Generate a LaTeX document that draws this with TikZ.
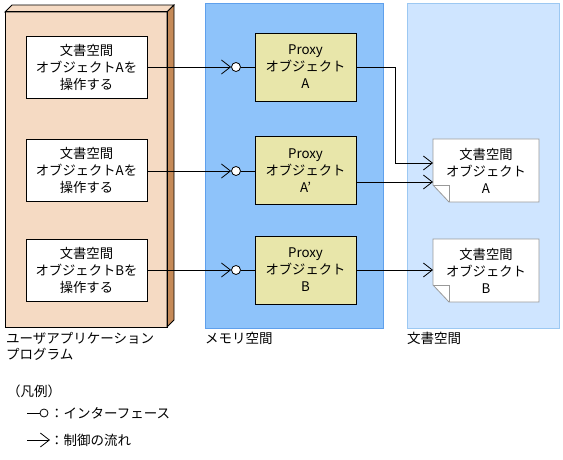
\documentclass[tikz,border=0pt]{standalone}
\usepackage{fontspec}
\setmainfont{Noto Sans CJK JP}
\usetikzlibrary{arrows.meta}
\definecolor{peach}{HTML}{F5DAC3}
\definecolor{brownside}{HTML}{C58A58}
\definecolor{memblue}{HTML}{8EC3FA}
\definecolor{memborder}{HTML}{5FA0EC}
\definecolor{docblue}{HTML}{CFE5FF}
\definecolor{docborder}{HTML}{9CC8F2}
\definecolor{proxyfill}{HTML}{E8E6AA}
\definecolor{docline}{HTML}{999999}
\tikzset{
  txt/.style={font=\fontsize{13.3}{17}\selectfont, align=center, inner sep=0pt},
  lbl/.style={font=\fontsize{13.5}{16}\selectfont, align=left, inner sep=0pt, anchor=north west},
  appbox/.style={draw=black, fill=white, line width=0.8pt, minimum width=121pt, minimum height=62pt, txt},
  proxybox/.style={draw=black, fill=proxyfill, line width=0.8pt, minimum width=101pt, minimum height=68pt, txt},
  iface/.style={circle, draw=black, fill=white, line width=0.8pt, minimum size=9pt, inner sep=0pt},
  flow/.style={-{Straight Barb[length=9pt,width=14pt,line width=0.8pt]}, line width=0.8pt},
  plain/.style={line width=0.8pt},
}
\begin{document}
\begin{tikzpicture}[x=1pt,y=-1pt]
\useasboundingbox (0,0) rectangle (563,460);
% left 3D box
\fill[peach] (5,12) rectangle (167,327);
\filldraw[fill=peach, draw=black, line width=0.8pt] (5,12) -- (12,5) -- (174,5) -- (167,12) -- cycle;
\filldraw[fill=brownside, draw=black, line width=0.8pt] (167,12) -- (174,5) -- (174,320) -- (167,327) -- cycle;
\draw[line width=1pt] (5,12) rectangle (167,327);
% memory panel
\filldraw[fill=memblue, draw=memborder, line width=0.8pt] (205,3) rectangle (383,328);
% doc panel
\filldraw[fill=docblue, draw=docborder, line width=0.8pt] (407,3) rectangle (559,328);

% app boxes
\node[appbox] (a1) at (86.5,67) {文書空間\\オブジェクトAを\\操作する};
\node[appbox] (a2) at (86.5,170.5) {文書空間\\オブジェクトAを\\操作する};
\node[appbox] (a3) at (86.5,270.5) {文書空間\\オブジェクトBを\\操作する};

% proxy boxes
\node[proxybox] (p1) at (305.5,67) {Proxy\\オブジェクト\\A};
\node[proxybox] (p2) at (305.5,170.5) {Proxy\\オブジェクト\\A’};
\node[proxybox] (p3) at (305.5,270) {Proxy\\オブジェクト\\B};

% interfaces
\node[iface] (i1) at (236,67) {};
\node[iface] (i2) at (236,171) {};
\node[iface] (i3) at (236,270) {};
\draw[flow] (a1.east |- i1) -- (i1.west);
\draw[flow] (a2.east |- i2) -- (i2.west);
\draw[flow] (a3.east |- i3) -- (i3.west);
\draw[plain] (i1.east) -- (p1.west |- i1);
\draw[plain] (i2.east) -- (p2.west |- i2);
\draw[plain] (i3.east) -- (p3.west |- i3);

% doc objects
\filldraw[fill=white, draw=docline, line width=0.8pt] (433,139) -- (539,139) -- (539,202) -- (449,202) -- (433,185) -- cycle;
\draw[docline, line width=0.8pt] (433,185) -- (449,185) -- (449,202);
\filldraw[fill=white, draw=docline, line width=0.8pt] (433,239) -- (539,239) -- (539,302) -- (449,302) -- (433,285) -- cycle;
\draw[docline, line width=0.8pt] (433,285) -- (449,285) -- (449,302);
\node[txt] (d1) at (486,170.5) {文書空間\\オブジェクト\\A};
\node[txt] (d2) at (486,270.5) {文書空間\\オブジェクト\\B};
\coordinate (d1in1) at (433,163);
\coordinate (d1in2) at (433,182);
\coordinate (d2in) at (433,270);
\coordinate (bend) at (395,67);

\draw[flow] (p1.east |- bend) -- (bend) |- (d1in1);
\draw[flow] (p2.east |- d1in2) -- (d1in2);
\draw[flow] (p3.east |- d2in) -- (d2in);

% labels
\node[lbl] (l1) at (6,332) {ユーザアプリケーション\\プログラム};
\node[lbl] (l2) at (205,332) {メモリ空間};
\node[lbl] (l3) at (407,332) {文書空間};

% legend
\node[lbl, anchor=west] (lg) at (7,391) {（凡例）};
\coordinate (ls1) at (27,413);
\node[iface, minimum size=8pt] (lc) at (44,413) {};
\draw[plain] (ls1) -- (lc.west);
\node[lbl, anchor=west] (lt1) at (50,413) {：インターフェース};
\coordinate (ls2) at (27,440);
\coordinate (le2) at (50,440);
\draw[flow] (ls2) -- (le2);
\node[lbl, anchor=west] (lt2) at (50,440) {：制御の流れ};
\end{tikzpicture}
\end{document}
